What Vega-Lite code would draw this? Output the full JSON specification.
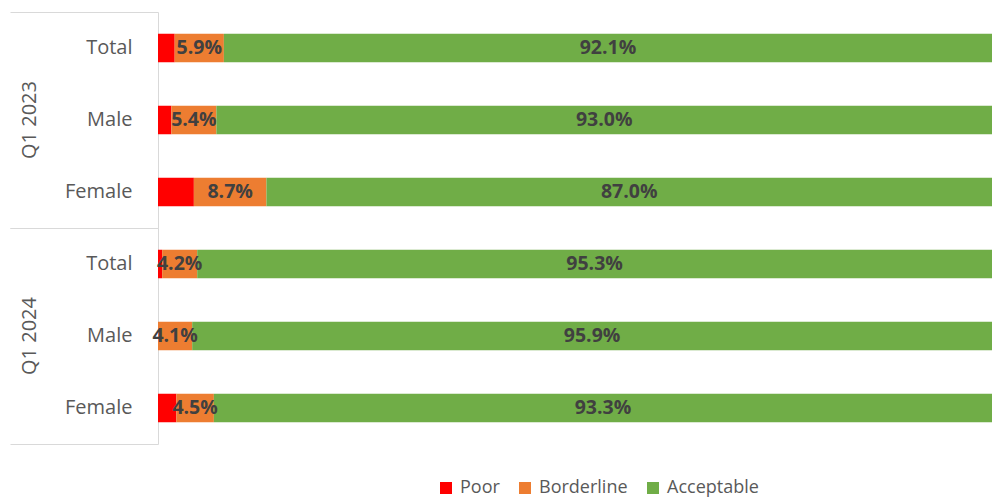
{
  "$schema": "https://vega.github.io/schema/vega-lite/v6.json",
  "padding": {"left": 9, "top": 11, "right": 0, "bottom": 3},
  "background": "white",
  "bounds": "flush",
  "config": {"view": {"stroke": null}, "font": "Open Sans"},
  "data": {"values": [
    {"group": "Q1 2023", "category": "Total", "status": "Poor", "ord": 1, "value": 2.0, "label": "2.0%"},
    {"group": "Q1 2023", "category": "Total", "status": "Borderline", "ord": 2, "value": 5.9, "label": "5.9%"},
    {"group": "Q1 2023", "category": "Total", "status": "Acceptable", "ord": 3, "value": 92.1, "label": "92.1%"},
    {"group": "Q1 2023", "category": "Male", "status": "Poor", "ord": 1, "value": 1.6, "label": "1.6%"},
    {"group": "Q1 2023", "category": "Male", "status": "Borderline", "ord": 2, "value": 5.4, "label": "5.4%"},
    {"group": "Q1 2023", "category": "Male", "status": "Acceptable", "ord": 3, "value": 93.0, "label": "93.0%"},
    {"group": "Q1 2023", "category": "Female", "status": "Poor", "ord": 1, "value": 4.3, "label": "4.3%"},
    {"group": "Q1 2023", "category": "Female", "status": "Borderline", "ord": 2, "value": 8.7, "label": "8.7%"},
    {"group": "Q1 2023", "category": "Female", "status": "Acceptable", "ord": 3, "value": 87.0, "label": "87.0%"},
    {"group": "Q1 2024", "category": "Total", "status": "Poor", "ord": 1, "value": 0.5, "label": "0.5%"},
    {"group": "Q1 2024", "category": "Total", "status": "Borderline", "ord": 2, "value": 4.2, "label": "4.2%"},
    {"group": "Q1 2024", "category": "Total", "status": "Acceptable", "ord": 3, "value": 95.3, "label": "95.3%"},
    {"group": "Q1 2024", "category": "Male", "status": "Poor", "ord": 1, "value": 0.0, "label": "0.0%"},
    {"group": "Q1 2024", "category": "Male", "status": "Borderline", "ord": 2, "value": 4.1, "label": "4.1%"},
    {"group": "Q1 2024", "category": "Male", "status": "Acceptable", "ord": 3, "value": 95.9, "label": "95.9%"},
    {"group": "Q1 2024", "category": "Female", "status": "Poor", "ord": 1, "value": 2.2, "label": "2.2%"},
    {"group": "Q1 2024", "category": "Female", "status": "Borderline", "ord": 2, "value": 4.5, "label": "4.5%"},
    {"group": "Q1 2024", "category": "Female", "status": "Acceptable", "ord": 3, "value": 93.3, "label": "93.3%"}
  ]},
  "facet": {
    "row": {
      "field": "group", "type": "nominal", "sort": ["Q1 2023", "Q1 2024"],
      "header": {"title": null, "labelAngle": -90, "labelOrient": "left", "labelFontSize": 20, "labelColor": "#595959", "labelFont": "Open Sans", "labelPadding": 108}
    }
  },
  "spacing": 0,
  "resolve": {"scale": {"y": "independent"}},
  "spec": {
    "width": 834,
    "height": 216,
    "layer": [
      {
        "layer": [
          {
            "mark": {"type": "bar"},
            "encoding": {
              "y": {"field": "category", "type": "nominal", "sort": ["Total", "Male", "Female"],
                "scale": {"paddingInner": 0.604, "paddingOuter": 0.302},
                "axis": {"title": null, "ticks": false, "labelPadding": 26, "labelFontSize": 20, "labelColor": "#595959", "labelFont": "Open Sans", "domainColor": "#D9D9D9", "grid": false}},
              "x": {"field": "value", "type": "quantitative", "stack": "zero", "scale": {"domain": [0, 100], "nice": false}, "axis": null},
              "order": {"field": "ord"},
              "color": {"field": "status", "type": "nominal",
                "scale": {"domain": ["Poor", "Borderline", "Acceptable"], "range": ["#FF0000", "#ED7D31", "#70AD47"]},
                "legend": {"title": null, "orient": "none", "legendX": 279, "legendY": 467, "direction": "horizontal", "symbolType": "square", "symbolSize": 144, "symbolStrokeWidth": 0, "labelFontSize": 18, "labelColor": "#595959", "labelFont": "Open Sans", "columnPadding": 16, "labelOffset": 5}}
            }
          },
          {
            "mark": {"type": "text", "fontWeight": "bold", "fontSize": 19.5, "color": "#404040", "font": "Open Sans"},
            "encoding": {
              "y": {"field": "category", "type": "nominal", "sort": ["Total", "Male", "Female"]},
              "x": {"field": "value", "type": "quantitative", "stack": "zero", "bandPosition": 0.5},
              "order": {"field": "ord"},
              "detail": {"field": "status"},
              "text": {"condition": {"test": "datum.status === 'Poor'", "value": ""}, "field": "label"}
            }
          }
        ]
      },
      {
        "mark": {"type": "point", "opacity": 0},
        "encoding": {
          "y": {"field": "group", "type": "nominal",
            "scale": {"paddingInner": 0, "paddingOuter": 0},
            "axis": {"orient": "left", "labels": false, "domain": false, "tickBand": "extent", "tickSize": 148, "tickColor": "#D9D9D9", "title": null, "grid": false}}
        }
      }
    ],
    "resolve": {"scale": {"y": "independent"}}
  }
}
